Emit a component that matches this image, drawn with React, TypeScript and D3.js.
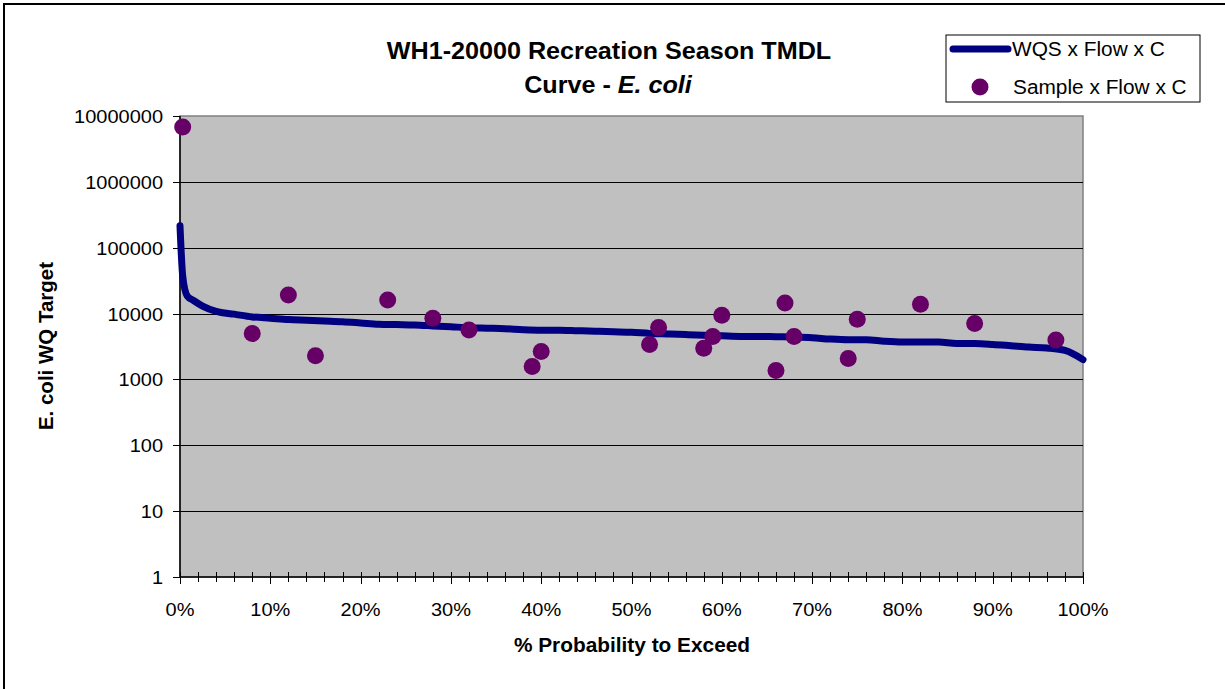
import React, { useEffect, useRef } from 'react';
import * as d3 from 'd3';

// WQS x Flow x C curve (% probability to exceed, E. coli load)
const curvePct = [0, 0.3, 0.8, 1.5, 2.5, 4, 6, 8, 10, 12, 14, 16, 18, 20, 22, 24, 26, 28, 30, 32, 34, 36, 38, 40, 42, 44, 46, 48, 50, 52, 54, 56, 58, 60, 62, 64, 66, 68, 70, 72, 74, 76, 78, 80, 82, 84, 86, 88, 90, 92, 94, 96, 98, 100];
const curveVal = [215000, 37000, 18500, 15800, 13000, 10800, 9800, 8900, 8500, 8100, 7900, 7700, 7500, 7200, 6900, 6800, 6700, 6500, 6300, 6100, 6000, 5900, 5700, 5600, 5600, 5500, 5400, 5300, 5200, 5000, 4900, 4800, 4700, 4600, 4500, 4500, 4450, 4400, 4300, 4100, 4000, 4000, 3800, 3700, 3700, 3700, 3500, 3500, 3400, 3250, 3100, 3000, 2750, 2000];

// Sample x Flow x C points
const samplePct = [0.3, 8, 12, 15, 23, 28, 32, 39, 40, 52, 53, 58, 59, 60, 66, 67, 68, 74, 75, 82, 88, 97];
const sampleVal = [6800000, 4980, 19100, 2280, 16100, 8490, 5650, 1570, 2650, 3390, 6130, 2980, 4490, 9430, 1370, 14500, 4490, 2080, 8200, 13800, 7050, 3980];

const yTicks = [1, 10, 100, 1000, 10000, 100000, 1000000, 10000000];
const xMajor = [0, 10, 20, 30, 40, 50, 60, 70, 80, 90, 100];

const W = 1225;
const H = 689;
const SX = 1.08; // horizontal text stretch as in the original

export default function App() {
  const ref = useRef<SVGSVGElement>(null);

  useEffect(() => {
    if (!ref.current) return;
    const svg = d3.select(ref.current);
    svg.selectAll('*').remove();

    const left = 180, right = 1083, top = 116, bottom = 577;
    const x = d3.scaleLinear().domain([0, 100]).range([left, right]);
    const y = d3.scaleLog().domain([1, 1e7]).range([bottom, top]);
    const font = 'Liberation Sans, Arial, sans-serif';

    const stretchText = (g: any, tx: number, ty: number, txt: string, size: number, anchor: string, weight = 'normal') =>
      g.append('text')
        .attr('transform', `translate(${tx},${ty}) scale(${SX},1)`)
        .attr('text-anchor', anchor)
        .attr('font-family', font)
        .attr('font-size', size)
        .attr('font-weight', weight)
        .attr('fill', '#000')
        .text(txt);

    // outer frame
    svg.append('rect').attr('x', 4).attr('y', 4).attr('width', W + 20).attr('height', H + 20)
      .attr('fill', '#fff').attr('stroke', '#000').attr('stroke-width', 2);

    // plot area
    svg.append('rect').attr('x', left).attr('y', top).attr('width', right - left).attr('height', bottom - top)
      .attr('fill', '#c0c0c0').attr('stroke', '#808080').attr('stroke-width', 1.5);

    // gridlines
    svg.append('g').selectAll('line').data(yTicks.slice(1, -1)).enter().append('line')
      .attr('x1', left).attr('x2', right)
      .attr('y1', d => Math.round(y(d)) + 0.5).attr('y2', d => Math.round(y(d)) + 0.5)
      .attr('stroke', '#000').attr('stroke-width', 1);

    // y axis
    svg.append('line').attr('x1', left).attr('x2', left).attr('y1', top).attr('y2', bottom)
      .attr('stroke', '#000').attr('stroke-width', 1.5);
    const yAx = svg.append('g');
    yTicks.forEach(t => {
      const yy = Math.round(y(t)) + 0.5;
      yAx.append('line').attr('x1', left - 7).attr('x2', left).attr('y1', yy).attr('y2', yy)
        .attr('stroke', '#000');
      stretchText(yAx, 163, yy + 6.5, String(t), 18.5, 'end');
    });

    // x axis
    svg.append('line').attr('x1', left).attr('x2', right).attr('y1', bottom).attr('y2', bottom)
      .attr('stroke', '#000').attr('stroke-width', 1.5);
    const xAx = svg.append('g');
    d3.range(0, 101, 2).forEach(p => {
      const major = p % 10 === 0;
      const xx = Math.round(x(p)) + 0.5;
      xAx.append('line').attr('x1', xx).attr('x2', xx)
        .attr('y1', bottom - 5).attr('y2', bottom + (major ? 7 : 5))
        .attr('stroke', '#000').attr('stroke-width', 1);
    });
    xMajor.forEach(p => stretchText(xAx, x(p), 616, `${p}%`, 18.5, 'middle'));

    // curve
    const line = d3.line<number>().x((_, i) => x(curvePct[i])).y(d => y(d)).curve(d3.curveMonotoneX);
    svg.append('path').datum(curveVal).attr('d', line)
      .attr('fill', 'none').attr('stroke', '#000080').attr('stroke-width', 7)
      .attr('stroke-linejoin', 'round').attr('stroke-linecap', 'round');

    // samples
    svg.append('g').selectAll('circle').data(sampleVal).enter().append('circle')
      .attr('cx', (_, i) => x(samplePct[i])).attr('cy', d => y(d)).attr('r', 8.5)
      .attr('fill', '#660066');

    // title
    stretchText(svg, 609, 59, 'WH1-20000 Recreation Season TMDL', 23.3, 'middle', 'bold');
    const t2 = svg.append('text')
      .attr('transform', `translate(608,93) scale(${SX},1)`)
      .attr('text-anchor', 'middle').attr('font-family', font).attr('font-size', 23.3)
      .attr('font-weight', 'bold');
    t2.append('tspan').text('Curve - ');
    t2.append('tspan').attr('font-style', 'italic').text('E. coli');

    // axis titles
    stretchText(svg, 632, 652, '% Probability to Exceed', 19.3, 'middle', 'bold');
    svg.append('text')
      .attr('transform', `translate(53,346) rotate(-90)`)
      .attr('text-anchor', 'middle').attr('font-family', font).attr('font-size', 20.5)
      .attr('font-weight', 'bold').text('E. coli WQ Target');

    // legend
    const lg = svg.append('g');
    lg.append('rect').attr('x', 946).attr('y', 35).attr('width', 254).attr('height', 67)
      .attr('fill', '#fff').attr('stroke', '#000').attr('stroke-width', 1);
    lg.append('line').attr('x1', 953).attr('x2', 1008).attr('y1', 49).attr('y2', 49)
      .attr('stroke', '#000080').attr('stroke-width', 7).attr('stroke-linecap', 'round');
    stretchText(lg, 1012, 56, 'WQS x Flow x C', 19.3, 'start');
    lg.append('circle').attr('cx', 980).attr('cy', 87).attr('r', 8.5).attr('fill', '#660066');
    stretchText(lg, 1013, 94, 'Sample x Flow x C', 19.3, 'start');
  }, []);

  return (
    <svg ref={ref} width={W} height={H} style={{ position: 'absolute', left: 0, top: 0 }} />
  );
}
